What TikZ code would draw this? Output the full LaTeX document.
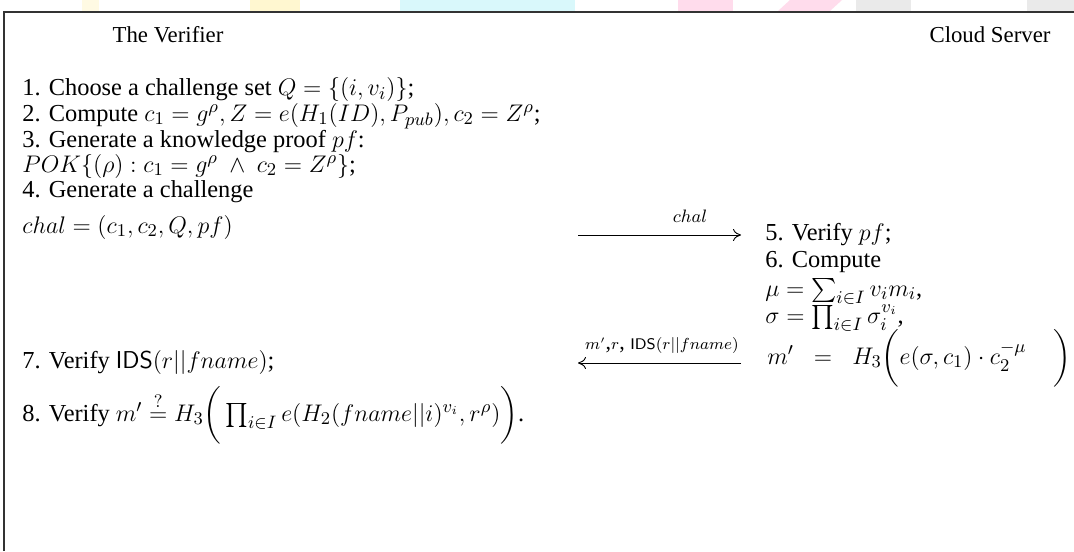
\documentclass[tikz,border=0pt]{standalone}
\usepackage{amsmath}
\usepackage[no-math]{fontspec}
\setmainfont{Liberation Serif}
\usetikzlibrary{arrows.meta}
\definecolor{wmyellow}{HTML}{FFF7D0}
\definecolor{wmcyan}{HTML}{D9F8FB}
\definecolor{wmpink}{HTML}{FFDCEC}
\definecolor{wmgrey}{HTML}{EAEAEA}
\tikzset{
  txt/.style={anchor=base west, inner sep=0pt, font=\fontsize{12.2}{14.6}\selectfont},
  bigtxt/.style={anchor=base west, inner sep=0pt, font=\fontsize{13}{15.6}\selectfont},
  head/.style={anchor=base, inner sep=0pt, font=\fontsize{11.4}{13.7}\selectfont},
  lbl/.style={anchor=base, inner sep=0pt, font=\fontsize{12.2}{14.6}\selectfont},
  slbl/.style={anchor=base, inner sep=0pt, font=\fontsize{11}{13}\selectfont},
  msg/.style={-{To[length=4pt,width=6pt]}, line width=0.45pt},
  frame/.style={line width=0.8pt, draw=black!80}
}
\begin{document}
\begin{tikzpicture}[x=0.5pt,y=-0.5pt]
\useasboundingbox (0,0) rectangle (1074,551);
\fill[white] (0,0) rectangle (1074,551);
% faint watermark strip
\fill[wmyellow!60] (82,0) rectangle (99,11);
\fill[wmyellow] (250,0) rectangle (300,11);
\fill[wmcyan] (400,0) rectangle (575,11);
\fill[wmpink] (678,0) rectangle (733,11);
\fill[wmpink] (790,0) -- (842,0) -- (830,11) -- (778,11) -- cycle;
\fill[wmgrey] (856,0) rectangle (911,11);
\fill[wmgrey] (1027,0) rectangle (1074,11);
% frame
\draw[frame] (4,551) -- (4,12) -- (1074,12);
% headers
\node[head] (verifier) at (168,43) {The Verifier};
\node[head] (server) at (990,43) {Cloud Server};
% verifier steps
\node[txt] (v1) at (22,96) {1. Choose a challenge set $Q=\{(i,v_i)\}$;};
\node[txt] (v2) at (22,121) {2. Compute $c_1=g^\rho, Z=e(H_1(ID),P_{pub}),c_2=Z^\rho$;};
\node[txt] (v3) at (22,147) {3. Generate a knowledge proof $pf$:};
\node[txt] (v4) at (22,172) {$POK\{(\rho): c_1=g^\rho\ \wedge\ c_2=Z^\rho\}$;};
\node[txt] (v5) at (22,197) {4. Generate a challenge};
\node[txt] (v6) at (22,233) {$chal=(c_1,c_2,Q,pf)$};
% server steps
\node[txt] (s5) at (765,240) {5. Verify $pf$;};
\node[txt] (s6) at (765,267) {6. Compute};
\node[txt] (s7) at (765,296) {$\mu=\sum_{i\in I}v_im_i$,};
\node[txt] (s8) at (765,323) {$\sigma=\prod_{i\in I}\sigma_i^{v_i}$,};
\node[bigtxt] (s9) at (767,364) {$m'\;\;=\;\;H_3\bigg(e(\sigma,c_1)\cdot c_2^{-\mu}\;\;\;\;\bigg)$};
% verifier final steps
\node[txt] (v7) at (22,368) {7. Verify $\textsf{IDS}(r||fname)$;};
\node[txt] (v8) at (22,421) {8. Verify $m'\stackrel{?}{=}H_3\bigg(\prod_{i\in I}e(H_2(fname||i)^{v_i},r^\rho)\bigg)$.};
% messages
\coordinate (a1s) at (578,235);
\coordinate (a1e) at (741,235);
\draw[msg] (a1s) -- (a1e);
\node[lbl] (l1) at (690,222) {$\scriptstyle chal$};
\coordinate (a2s) at (741,363);
\coordinate (a2e) at (578,363);
\draw[msg] (a2s) -- (a2e);
\node[slbl] (l2) at (662,349) {$\scriptstyle m'$,$\scriptstyle r$, $\scriptstyle \textsf{IDS}(r||fname)$};
\end{tikzpicture}
\end{document}
